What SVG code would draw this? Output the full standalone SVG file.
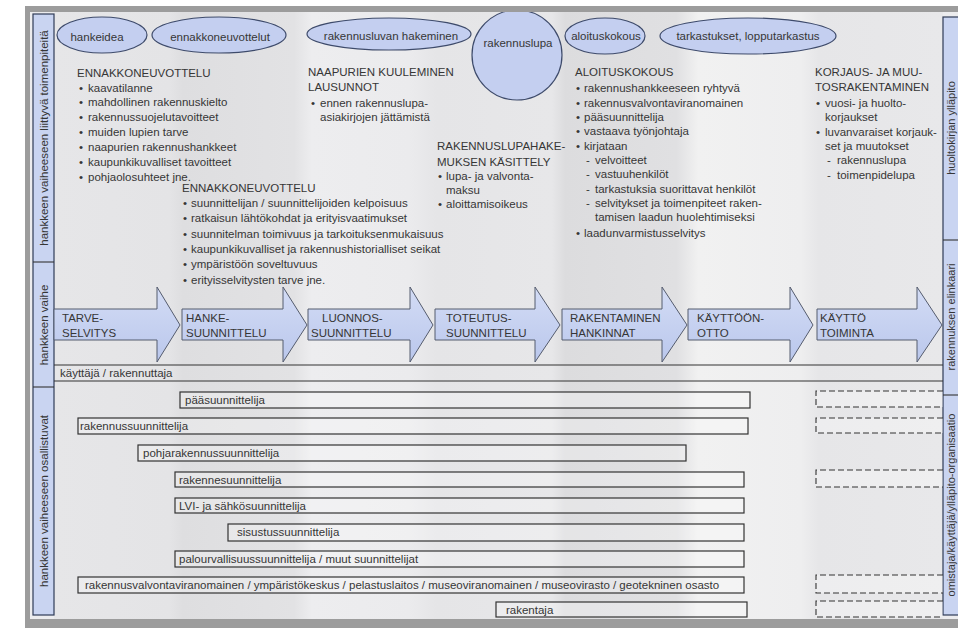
<svg xmlns="http://www.w3.org/2000/svg" width="958" height="628" viewBox="0 0 958 628">
<defs>
<linearGradient id="arrowFill" x1="0" y1="0" x2="0" y2="1">
<stop offset="0" stop-color="#d3dcf5"/>
<stop offset="1" stop-color="#bac7ec"/>
</linearGradient>
<linearGradient id="bandFill" gradientUnits="userSpaceOnUse" x1="54" y1="0" x2="943" y2="0">
<stop offset="0" stop-color="#e6e6e8"/>
<stop offset="0.13" stop-color="#e4e4e6"/>
<stop offset="0.145" stop-color="#dedee0"/>
<stop offset="0.27" stop-color="#e2e2e4"/>
<stop offset="0.29" stop-color="#ededef"/>
<stop offset="0.40" stop-color="#ebebed"/>
<stop offset="0.43" stop-color="#e5e5e7"/>
<stop offset="0.56" stop-color="#e7e7e9"/>
<stop offset="0.575" stop-color="#dcdcde"/>
<stop offset="0.7" stop-color="#e0e0e2"/>
<stop offset="0.725" stop-color="#f1f1f1"/>
<stop offset="0.84" stop-color="#eeeeef"/>
<stop offset="0.86" stop-color="#e6e6e8"/>
<stop offset="1" stop-color="#e8e8ea"/>
</linearGradient>
<style>
text{font-family:"Liberation Sans",Arial,sans-serif;font-size:11.5px;fill:#363636;}
.ell{fill:#c4cff0;stroke:#3e4b6b;stroke-width:1.2;}
.arr{fill:url(#arrowFill);stroke:#555c6e;stroke-width:1;}
.side{fill:#c9d4f1;stroke:#2f3b57;stroke-width:1.2;}
.bar{fill:#ffffff;fill-opacity:0.25;stroke:#333;stroke-width:1.2;}
.dash{fill:#ffffff;fill-opacity:0.3;stroke:#333;stroke-width:1.1;stroke-dasharray:6,3;}
.ln{stroke:#333;stroke-width:1.1;fill:none;}
.mid{text-anchor:middle;}
.rs{font-size:11px;}
</style>
</defs>
<rect x="0" y="0" width="958" height="628" fill="#ffffff"/>
<!-- frame -->
<rect x="25" y="6" width="940" height="630" fill="#9c9c9c"/>
<rect x="30" y="12" width="935" height="607" fill="#ececee"/>
<!-- background bands -->
<rect id="bands" x="54" y="12" width="889" height="607" fill="url(#bandFill)"/>

<!-- left sidebar -->
<g id="left-sidebar">
<rect class="side" x="33" y="14" width="21" height="601"/>
<line class="ln" x1="33" y1="262" x2="54" y2="262"/>
<line class="ln" x1="33" y1="387" x2="54" y2="387"/>
<text class="mid" transform="translate(47.5,138) rotate(-90)">hankkeen vaiheeseen liittyvä toimenpiteitä</text>
<text class="mid" transform="translate(47.5,325) rotate(-90)">hankkeen vaihe</text>
<text class="mid" transform="translate(47.5,501) rotate(-90)">hankkeen vaiheeseen osallistuvat</text>
</g>

<!-- right sidebar -->
<g id="right-sidebar">
<rect class="side" x="943" y="17" width="24" height="598"/>
<line class="ln" x1="943" y1="240" x2="958" y2="240"/>
<line class="ln" x1="943" y1="395" x2="958" y2="395"/>
<text class="mid rs" transform="translate(954.5,128) rotate(-90)">huoltokirjan ylläpito</text>
<text class="mid rs" transform="translate(954.5,317) rotate(-90)">rakennuksen elinkaari</text>
<text class="mid rs" transform="translate(954.5,505) rotate(-90)">omistaja/käyttäjä/ylläpito-organisaatio</text>
</g>

<!-- top ellipses -->
<g id="e-hankeidea"><ellipse class="ell" cx="102" cy="35" rx="45" ry="18"/><text class="mid" x="97" y="41">hankeidea</text></g>
<g id="e-ennakko"><ellipse class="ell" cx="219" cy="35" rx="67" ry="18"/><text class="mid" x="220" y="41">ennakkoneuvottelut</text></g>
<g id="e-rakennusluvan"><ellipse class="ell" cx="389" cy="34" rx="82" ry="16"/><text class="mid" x="391" y="40">rakennusluvan hakeminen</text></g>
<g id="e-rakennuslupa"><circle class="ell" cx="517" cy="55" r="45"/><text class="mid" x="518" y="47">rakennuslupa</text></g>
<g id="e-aloituskokous"><ellipse class="ell" cx="605" cy="36" rx="40" ry="18"/><text class="mid" x="606" y="40">aloituskokous</text></g>
<g id="e-tarkastukset"><ellipse class="ell" cx="748" cy="36" rx="88" ry="18"/><text class="mid" x="748" y="40">tarkastukset, lopputarkastus</text></g>

<!-- text blocks -->
<g id="t-ennakko1">
<text x="77" y="77">ENNAKKONEUVOTTELU</text>
<text x="79" y="91.6">•</text><text x="88" y="91.6">kaavatilanne</text>
<text x="79" y="106.4">•</text><text x="88" y="106.4">mahdollinen rakennuskielto</text>
<text x="79" y="121.3">•</text><text x="88" y="121.3">rakennussuojelutavoitteet</text>
<text x="79" y="136.1">•</text><text x="88" y="136.1">muiden lupien tarve</text>
<text x="79" y="151">•</text><text x="88" y="151">naapurien rakennushankkeet</text>
<text x="79" y="165.9">•</text><text x="88" y="165.9">kaupunkikuvalliset tavoitteet</text>
<text x="79" y="180.7">•</text><text x="88" y="180.7">pohjaolosuhteet jne.</text>
</g>
<g id="t-ennakko2">
<text x="182" y="191.5">ENNAKKONEUVOTTELU</text>
<text x="183" y="207">•</text><text x="191" y="207">suunnittelijan / suunnittelijoiden kelpoisuus</text>
<text x="183" y="222">•</text><text x="191" y="222">ratkaisun lähtökohdat ja erityisvaatimukset</text>
<text x="183" y="237.5">•</text><text x="191" y="237.5">suunnitelman toimivuus ja tarkoituksenmukaisuus</text>
<text x="183" y="253">•</text><text x="191" y="253">kaupunkikuvalliset ja rakennushistorialliset seikat</text>
<text x="183" y="268">•</text><text x="191" y="268">ympäristöön soveltuvuus</text>
<text x="183" y="283.5">•</text><text x="191" y="283.5">erityisselvitysten tarve jne.</text>
</g>
<g id="t-naapurien">
<text x="308" y="76">NAAPURIEN KUULEMINEN</text>
<text x="308" y="91">LAUSUNNOT</text>
<text x="311" y="107">•</text><text x="320" y="107">ennen rakennuslupa-</text>
<text x="320" y="121">asiakirjojen jättämistä</text>
</g>
<g id="t-rakennuslupahakemus">
<text x="437" y="150">RAKENNUSLUPAHAKE-</text>
<text x="437" y="166">MUKSEN KÄSITTELY</text>
<text x="438" y="180">•</text><text x="446" y="180">lupa- ja valvonta-</text>
<text x="446" y="194">maksu</text>
<text x="438" y="207.5">•</text><text x="446" y="207.5">aloittamisoikeus</text>
</g>
<g id="t-aloituskokous">
<text x="575" y="76">ALOITUSKOKOUS</text>
<text x="576" y="92">•</text><text x="584" y="92">rakennushankkeeseen ryhtyvä</text>
<text x="576" y="107">•</text><text x="584" y="107">rakennusvalvontaviranomainen</text>
<text x="576" y="121">•</text><text x="584" y="121">pääsuunnittelija</text>
<text x="576" y="135">•</text><text x="584" y="135">vastaava työnjohtaja</text>
<text x="576" y="150">•</text><text x="584" y="150">kirjataan</text>
<text x="586" y="164">-</text><text x="595" y="164">velvoitteet</text>
<text x="586" y="178">-</text><text x="595" y="178">vastuuhenkilöt</text>
<text x="586" y="192.5">-</text><text x="595" y="192.5">tarkastuksia suorittavat henkilöt</text>
<text x="586" y="207">-</text><text x="595" y="207">selvitykset ja toimenpiteet raken-</text>
<text x="595" y="221">tamisen laadun huolehtimiseksi</text>
<text x="576" y="237">•</text><text x="584" y="237">laadunvarmistusselvitys</text>
</g>
<g id="t-korjaus">
<text x="815" y="76">KORJAUS- JA MUU-</text>
<text x="815" y="91">TOSRAKENTAMINEN</text>
<text x="816" y="107">•</text><text x="825" y="107">vuosi- ja huolto-</text>
<text x="825" y="121">korjaukset</text>
<text x="816" y="136">•</text><text x="825" y="136">luvanvaraiset korjauk-</text>
<text x="825" y="150">set ja muutokset</text>
<text x="827" y="164">-</text><text x="837" y="164">rakennuslupa</text>
<text x="827" y="178.5">-</text><text x="837" y="178.5">toimenpidelupa</text>
</g>

<!-- phase arrows -->
<g id="a-tarveselvitys"><path class="arr" d="M54,309 L157,309 L157,287 L180,325 L157,362 L157,340 L54,340 Z"/><text x="62" y="322">TARVE-</text><text x="62" y="337">SELVITYS</text></g>
<g id="a-hankesuunnittelu"><path class="arr" d="M182,309 L283,309 L283,287 L307,325 L283,362 L283,340 L182,340 Z"/><text x="186" y="322">HANKE-</text><text x="186" y="337">SUUNNITTELU</text></g>
<g id="a-luonnossuunnittelu"><path class="arr" d="M308,309 L410,309 L410,287 L433,325 L410,362 L410,340 L308,340 Z"/><text x="322" y="322">LUONNOS-</text><text x="311" y="337">SUUNNITTELU</text></g>
<g id="a-toteutussuunnittelu"><path class="arr" d="M435,309 L535,309 L535,287 L560,325 L535,362 L535,340 L435,340 Z"/><text x="446" y="322">TOTEUTUS-</text><text x="446" y="337">SUUNNITTELU</text></g>
<g id="a-rakentaminen"><path class="arr" d="M562,309 L662,309 L662,287 L687,325 L662,362 L662,340 L562,340 Z"/><text x="570" y="322">RAKENTAMINEN</text><text x="570" y="337">HANKINNAT</text></g>
<g id="a-kayttoonotto"><path class="arr" d="M688,309 L790,309 L790,287 L813,325 L790,362 L790,340 L688,340 Z"/><text x="697" y="322">KÄYTTÖÖN-</text><text x="697" y="337">OTTO</text></g>
<g id="a-kayttotoiminta"><path class="arr" d="M817,309 L917,309 L917,287 L942,325 L917,362 L917,340 L817,340 Z"/><text x="820" y="322">KÄYTTÖ</text><text x="820" y="337">TOIMINTA</text></g>

<!-- row lines (connectors group) -->
<g id="connectors">
<line class="ln" x1="54" y1="365" x2="943" y2="365"/>
<line class="ln" x1="54" y1="381" x2="943" y2="381"/>
</g>
<g id="r-kayttaja"><text x="60" y="377">käyttäjä / rakennuttaja</text></g>

<!-- participant bars -->
<g id="p-paasuunnittelija"><rect class="bar" x="180" y="392" width="570" height="16"/><text x="185" y="404">pääsuunnittelija</text></g>
<g id="p-rakennussuunnittelija"><rect class="bar" x="78" y="418" width="670" height="16"/><text x="80" y="430">rakennussuunnittelija</text></g>
<g id="p-pohjarakennus"><rect class="bar" x="138" y="445" width="548" height="16"/><text x="143" y="457">pohjarakennussuunnittelija</text></g>
<g id="p-rakenne"><rect class="bar" x="175" y="472" width="569" height="15"/><text x="179" y="484">rakennesuunnittelija</text></g>
<g id="p-lvi"><rect class="bar" x="175" y="498" width="569" height="15"/><text x="179" y="510">LVI- ja sähkösuunnittelija</text></g>
<g id="p-sisustus"><rect class="bar" x="228" y="524" width="516" height="17"/><text x="237" y="536">sisustussuunnittelija</text></g>
<g id="p-palo"><rect class="bar" x="175" y="551" width="569" height="16"/><text x="179" y="563">palourvallisuussuunnittelija / muut suunnittelijat</text></g>
<g id="p-viranomaiset"><rect class="bar" x="78" y="577" width="666" height="16"/><text x="85" y="589">rakennusvalvontaviranomainen / ympäristökeskus / pelastuslaitos / museoviranomainen / museovirasto / geotekninen osasto</text></g>
<g id="p-rakentaja"><rect class="bar" x="496" y="602" width="251" height="15"/><text x="506" y="614">rakentaja</text></g>

<!-- dashed (use phase) boxes -->
<g id="d-boxes">
<path class="dash" d="M943,391 L816,391 L816,407 L943,407"/>
<path class="dash" d="M943,418 L816,418 L816,433 L943,433"/>
<path class="dash" d="M943,470 L816,470 L816,487 L943,487"/>
<path class="dash" d="M943,575 L816,575 L816,593 L943,593"/>
<path class="dash" d="M943,601 L816,601 L816,617 L943,617"/>
</g>

<!-- frame top overlay -->
<rect x="25" y="6" width="940" height="6" fill="#9c9c9c"/>
</svg>
